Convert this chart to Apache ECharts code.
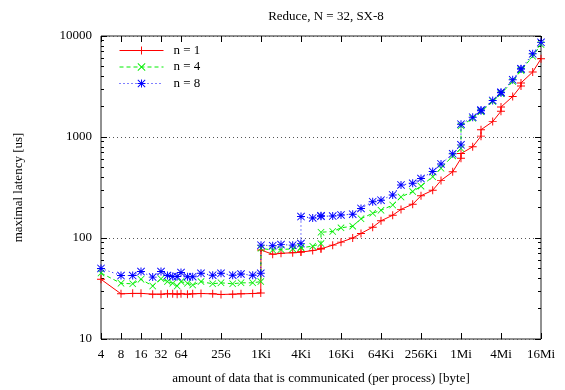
<!DOCTYPE html>
<html lang="en">
<head>
<meta charset="UTF-8">
<title>Reduce, N = 32, SX-8</title>
<script src="https://cdn.jsdelivr.net/npm/echarts@6/dist/echarts.min.js"></script>
<style>
    html, body { margin: 0; background: #fff; }
    #main { width: 565px; height: 390px; }
</style>
</head>
<body>
<div id="main"></div>
<script type="text/javascript">
    // message sizes in byte (x values, shared by all series)
    var sizes = [4, 8, 12, 16, 24, 32, 40, 48, 56, 64, 80, 96, 128, 192, 256, 384, 512, 768,
        1016, 1024, 1536, 2048, 3072, 4088, 4096, 6144, 8184, 8192, 12288, 16384, 24576, 32768,
        49152, 65536, 98304, 131072, 196608, 262144, 393216, 524288, 786432, 1047552, 1048576,
        1572864, 2096128, 2097152, 3145728, 4190208, 4194304, 6291456, 8386560, 8388608,
        12582912, 16777216];

    // maximal latency [us]
    var lat1 = [39, 28, 28.3, 28.3, 27.8, 27.8, 28, 28, 27.7, 28, 27.8, 28, 28.2, 28, 27.6, 27.8, 28, 28.2,
        28.5, 76, 69, 70.5, 71.5, 72.5, 73, 75, 78, 79, 85, 91, 100, 111,
        128, 148, 168, 192, 216, 262, 297, 372, 452, 615, 685,
        800, 1020, 1180, 1420, 1800, 1980, 2520, 3200, 3430,
        4400, 5950];
    var lat4 = [45, 35.6, 35.2, 39, 33.5, 39.5, 37, 35.6, 33.5, 37, 35.6, 34.2, 37, 35.2, 36, 35.2, 36, 36,
        37, 79, 76, 77, 78, 80, 81, 83, 88, 114, 116, 126, 131, 155,
        176, 188, 212, 255, 288, 326, 404, 490, 650, 770, 1290,
        1530, 1780, 1810, 2250, 2680, 2720, 3550, 4550, 4600,
        6300, 8250];
    var lat8 = [50, 42.5, 42.5, 46.5, 41, 46.5, 42.5, 41.5, 41.5, 45.5, 41.4, 41.4, 44.7, 42.8, 44.7, 42.8, 44, 42.8,
        44.7, 85, 84, 86, 85, 88, 163, 158, 164, 166, 165, 169, 172, 196,
        229, 237, 267, 335, 348, 388, 455, 541, 682, 836, 1338,
        1570, 1820, 1850, 2300, 2740, 2780, 3680, 4700, 4750,
        6660, 8650];

    var seriesNames = ['n = 1', 'n = 4', 'n = 8'];

    // tick marks and labels
    var xTickValues = [4, 8, 16, 32, 64, 256, 1024, 4096, 16384, 65536, 262144, 1048576, 4194304, 16777216];
    var xTickLabels = ['4', '8', '16', '32', '64', '256', '1Ki', '4Ki', '16Ki', '64Ki', '256Ki', '1Mi', '4Mi', '16Mi'];
    var yTickValues = [10, 100, 1000, 10000];
    var yMinorValues = [20, 30, 40, 50, 60, 70, 80, 90, 200, 300, 400, 500, 600, 700, 800, 900,
        2000, 3000, 4000, 5000, 6000, 7000, 8000, 9000];

    var font = 'Liberation Serif';
    var plusPath = 'path://M4.4,0H5.6V10H4.4Z M0,4.4H10V5.6H0Z';
    var crossPath = 'path://M0,0.8L0.8,0L10,9.2L9.2,10Z M9.2,0L10,0.8L0.8,10L0,9.2Z';
    var starPath = 'path://M4.4,0H5.6V10H4.4Z M0,4.4H10V5.6H0Z M0,0.8L0.8,0L10,9.2L9.2,10Z M9.2,0L10,0.8L0.8,10L0,9.2Z';

    function pairs(vals) {
        return sizes.map(function (s, i) {
            return [s, vals[i]];
        });
    }

    function xLabel(v) {
        var i = xTickValues.indexOf(Math.round(v));
        return i < 0 ? '' : xTickLabels[i];
    }

    function xAxisCfg(pos, withLabels) {
        return {
            type: 'log', logBase: 2, min: 4, max: 16777216, position: pos,
            axisLine: {show: false},
            axisTick: {show: true, inside: true, length: 6, customValues: xTickValues,
                lineStyle: {color: '#000', width: 1}},
            axisLabel: {show: withLabels, customValues: xTickValues, formatter: xLabel, margin: 9,
                fontFamily: font, fontSize: 13, color: '#000'},
            splitLine: {show: false},
            minorTick: {show: false}
        };
    }

    function yAxisCfg(pos, minor) {
        return {
            type: 'log', logBase: 10, min: 10, max: 10000, position: pos,
            axisLine: {show: false},
            axisTick: {show: true, inside: true, length: minor ? 3 : 6,
                customValues: minor ? yMinorValues : yTickValues,
                lineStyle: {color: '#000', width: 1}},
            axisLabel: {show: pos === 'left' && !minor, customValues: yTickValues, margin: 9,
                fontFamily: font, fontSize: 13, color: '#000',
                formatter: function (v) { return String(Math.round(v)); }},
            splitLine: {show: pos === 'left' && !minor,
                lineStyle: {color: '#555', width: 1, type: [1, 3]}}
        };
    }

    var xBottom = xAxisCfg('bottom', true);
    xBottom.name = 'amount of data that is communicated (per process) [byte]';
    xBottom.nameLocation = 'middle';
    xBottom.nameGap = 33;
    xBottom.nameTextStyle = {fontFamily: font, fontSize: 13, color: '#000'};

    var yLeft = yAxisCfg('left', false);
    yLeft.name = 'maximal latency [us]';
    yLeft.nameLocation = 'middle';
    yLeft.nameGap = 76;
    yLeft.nameTextStyle = {fontFamily: font, fontSize: 13, color: '#000'};

    var myChart = echarts.init(document.getElementById('main'), null, {renderer: 'canvas'});
    var option = {
        animation: false,
        backgroundColor: '#fff',
        title: {
            text: 'Reduce, N = 32, SX-8',
            left: 321, top: 5, textAlign: 'center',
            textStyle: {fontFamily: font, fontSize: 13, fontWeight: 'normal', color: '#000'}
        },
        grid: {
            left: 101, right: 24, top: 36, bottom: 51,
            show: true, borderColor: '#222', borderWidth: 1, backgroundColor: 'transparent'
        },
        legend: {
            orient: 'vertical', left: 114, top: 39,
            itemWidth: 44, itemHeight: 10, itemGap: 3.5,
            lineStyle: {width: 1},
            textStyle: {fontFamily: font, fontSize: 13, color: '#000', lineHeight: 10, padding: [0, 0, 0, 5]},
            data: seriesNames
        },
        xAxis: [xBottom, xAxisCfg('top', false)],
        yAxis: [yLeft, yAxisCfg('left', true), yAxisCfg('right', false), yAxisCfg('right', true)],
        series: [
            {
                name: seriesNames[0], type: 'line', xAxisIndex: 0, yAxisIndex: 0,
                data: pairs(lat1), symbol: plusPath, symbolSize: 8,
                itemStyle: {color: '#ff0000'},
                lineStyle: {color: '#ff0000', width: 1, type: 'solid'}
            },
            {
                name: seriesNames[1], type: 'line', xAxisIndex: 0, yAxisIndex: 0,
                data: pairs(lat4), symbol: crossPath, symbolSize: 7,
                itemStyle: {color: '#00ee00'},
                lineStyle: {color: '#00ee00', width: 1, type: [4, 3]}
            },
            {
                name: seriesNames[2], type: 'line', xAxisIndex: 0, yAxisIndex: 0,
                data: pairs(lat8), symbol: starPath, symbolSize: 8,
                itemStyle: {color: '#0000ff'},
                lineStyle: {color: '#0000ff', width: 1, type: [1, 3]}
            }
        ]
    };
    myChart.setOption(option);
</script>
</body>
</html>
